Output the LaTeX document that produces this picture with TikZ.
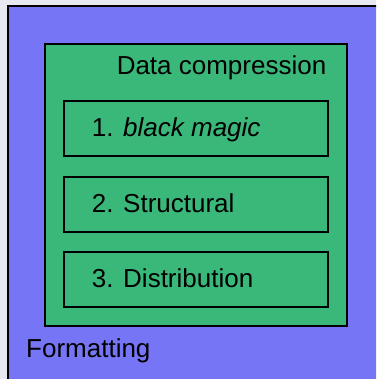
\documentclass[tikz,border=0pt]{standalone}
\usepackage{fontspec}
\setmainfont{Liberation Sans}
\definecolor{pagegrey}{RGB}{232,232,240}
\definecolor{layerblue}{RGB}{117,117,245}
\definecolor{layergreen}{RGB}{58,184,122}
\tikzset{
  layer/.style={draw=black, line width=2pt, rectangle, inner sep=0pt},
  stage/.style={layer, fill=layergreen, minimum width=263.4pt, minimum height=55pt},
  lbl/.style={inner sep=0pt, anchor=base west, font=\fontsize{26}{31}\selectfont}
}
\begin{document}
\begin{tikzpicture}[x=1pt, y=-1pt]
  \useasboundingbox (0,0) rectangle (376,379);
  \clip (0,0) rectangle (376,379);
  \fill[pagegrey] (0,0) rectangle (376,379);
  % outer formatting layer, running off the right and bottom edges
  \node[layer, fill=layerblue, minimum width=380pt, minimum height=380pt, anchor=north west] (fmt) at (6.5,5.5) {};
  % data compression layer
  \node[layer, fill=layergreen, minimum width=301.4pt, minimum height=281.7pt, anchor=north west] (dc) at (44.3,43.3) {};
  % stages
  \node[stage, anchor=north west] (s1) at (63.3,100) {};
  \node[stage, anchor=north west] (s2) at (63.3,175.7) {};
  \node[stage, anchor=north west] (s3) at (63.3,251) {};
  % labels
  \node[lbl, anchor=base east] (dct) at (326.5,75) {Data compression};
  \node[lbl] (t1) at (91.7,136.7) {1. \textit{black magic}};
  \node[lbl] (t2) at (91.7,212.3) {2. Structural};
  \node[lbl] (t3) at (91.7,287.3) {3. Distribution};
  \node[lbl] (ft) at (26,357.3) {Formatting};
\end{tikzpicture}
\end{document}
